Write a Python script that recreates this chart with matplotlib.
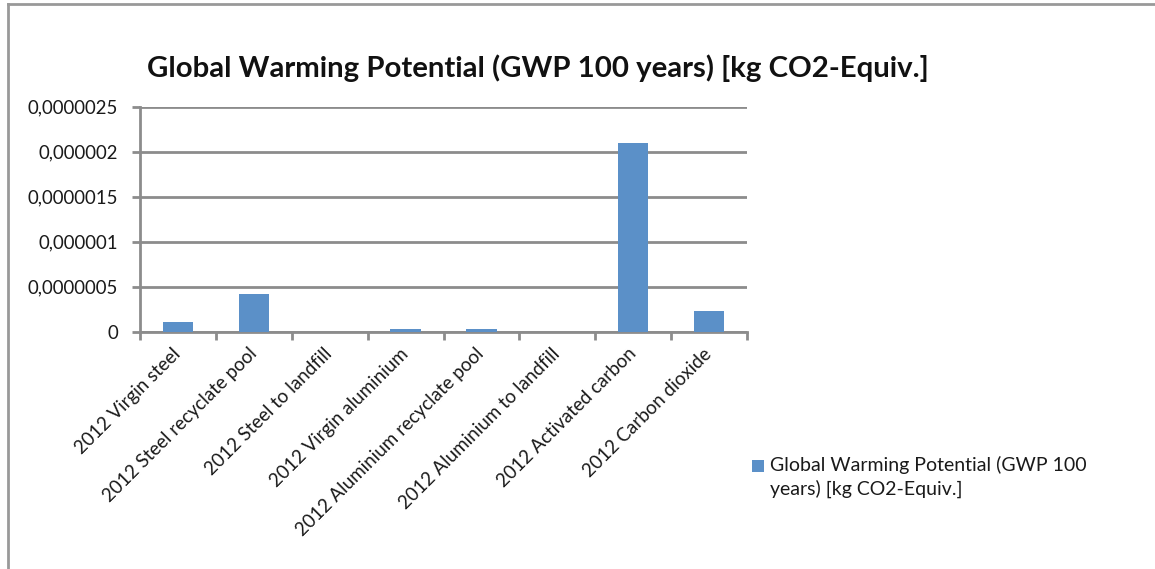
import numpy as np
import matplotlib
matplotlib.use('Agg')
import matplotlib.pyplot as plt
from matplotlib.lines import Line2D
from matplotlib.patches import Rectangle
from matplotlib.ticker import FuncFormatter, FixedLocator

plt.rcParams['font.family'] = ['Lato', 'DejaVu Sans']

# data
categories = ['2012 Virgin steel', '2012 Steel recyclate pool', '2012 Steel to landfill',
              '2012 Virgin aluminium', '2012 Aluminium recyclate pool',
              '2012 Aluminium to landfill', '2012 Activated carbon', '2012 Carbon dioxide']
gwp = [1.1e-7, 4.15e-7, 0.0, 2.5e-8, 2.5e-8, 0.0, 2.1e-6, 2.35e-7]
yticks = [0, 5e-7, 1e-6, 1.5e-6, 2e-6, 2.5e-6]
title = 'Global Warming Potential (GWP 100 years) [kg CO2-Equiv.]'
series_label = 'Global Warming Potential (GWP 100\nyears) [kg CO2-Equiv.]'

W, H = 1155, 569
fig = plt.figure(figsize=(W / 100, H / 100), dpi=100)
ax = fig.add_axes([140 / W, 1 - 331.7 / H, (747 - 140) / W, (331.7 - 106.7) / H])

bar_color = '#5b90c8'
grid_color = '#8c8c8c'
text_color = '#1a1a1a'

index = np.arange(len(categories))
bars = ax.bar(index, gwp, 0.4, color=bar_color, zorder=3)

ax.set_xlim(-0.5, len(categories) - 0.5)
ax.set_ylim(0, 2.5e-6)


def comma_fmt(v, pos):
    if v == 0:
        return '0'
    s = ('%.7f' % v).rstrip('0')
    return s.replace('.', ',')


ax.yaxis.set_major_locator(FixedLocator(yticks))
ax.yaxis.set_major_formatter(FuncFormatter(comma_fmt))
ax.grid(axis='y', color=grid_color, linewidth=2, zorder=1)

ax.set_xticks(index)
ax.set_xticklabels(categories, rotation=45, ha='right', va='center', rotation_mode='anchor')
ax.set_xticks(np.arange(len(categories) + 1) - 0.5, minor=True)
ax.tick_params(axis='x', which='major', length=0, pad=14, labelsize=13.5, colors=text_color)
ax.tick_params(axis='x', which='minor', length=6, width=2, color=grid_color)
ax.tick_params(axis='y', length=6, width=2, color=grid_color, labelsize=13.4,
               labelcolor=text_color, pad=10)

for side in ['top', 'right']:
    ax.spines[side].set_visible(False)
for side in ['left', 'bottom']:
    ax.spines[side].set_color(grid_color)
    ax.spines[side].set_linewidth(2)

fig.text(538 / W, 1 - 68 / H, title, ha='center', va='center',
         fontsize=21.2, fontweight='bold', color='#111111')

# legend drawn by hand so the swatch sits on the first line
fig.add_artist(Rectangle((752 / W, 1 - 472 / H), 12 / W, 12 / H,
                         transform=fig.transFigure, color=bar_color, lw=0))
fig.text(770 / W, 1 - 456 / H, series_label, ha='left', va='top',
         fontsize=14, color=text_color, linespacing=1.35)

# outer chart frame
fig.add_artist(Line2D([8 / W, 8 / W], [0, 1 - 4 / H], color='#999999', linewidth=2))
fig.add_artist(Line2D([8 / W, 1], [1 - 4 / H, 1 - 4 / H], color='#999999', linewidth=2))

fig.savefig('out.png', dpi=100)
